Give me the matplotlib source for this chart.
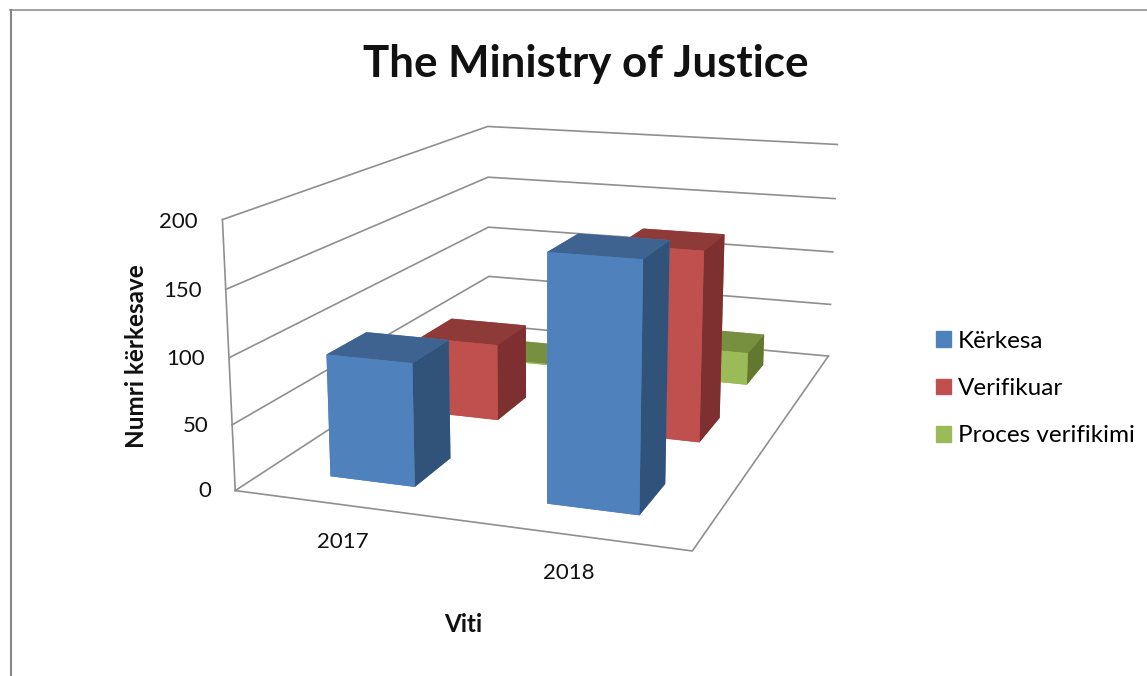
import numpy as np, matplotlib
matplotlib.use('Agg')
import matplotlib.pyplot as plt
from matplotlib.lines import Line2D
from matplotlib.patches import Patch

years = ['2017', '2018']
series = ['Kërkesa', 'Verifikuar', 'Proces verifikimi']
kerkesa = [94, 183]
verifikuar = [64, 155]
proces = [1, 29]
zticks = [0, 50, 100, 150, 200]

W, H = 1147, 676
plt.rcParams['font.family'] = ['Lato', 'DejaVu Sans']
fig = plt.figure(figsize=(W/100, H/100), dpi=100)
ax = fig.add_axes([0.15769, -0.01691, 0.66126, 1.12199], projection='3d')
ax.set_xlim(0, 2, view_margin=0); ax.set_ylim(0, 3, view_margin=0); ax.set_zlim(0, 200, view_margin=0)
ax.view_init(elev=13.7977, azim=-71.2306, roll=-0.2173)
ax.set_proj_type('persp', focal_length=float(np.exp(-0.9066)))
ax.set_box_aspect((np.exp(0.7711), np.exp(1.1537), np.exp(0.2352)))
ax.set_xticks([]); ax.set_yticks([]); ax.set_zticks([])
ax.set_axis_off(); ax.patch.set_alpha(0); ax.computed_zorder = False

GRID = '#8f8f8f'
def ln(xs, ys, zs, z=1):
    ax.plot(xs, ys, zs, color=GRID, lw=1.2, zorder=z)
for v in zticks:
    ln([0, 0, 2], [0, 3, 3], [v, v, v])
ln([0, 0], [0, 0], [0, 200])
ln([0, 2, 2], [0, 0, 3], [0, 0, 0])

faces = {
 0: ['#4F81BD', '#3E6390', '#4F81BD', '#4F81BD', '#4F81BD', '#325379'],
 1: ['#C0504D', '#8E3A38', '#C0504D', '#C0504D', '#C0504D', '#7D302F'],
 2: ['#9BBB59', '#769040', '#9BBB59', '#9BBB59', '#9BBB59', '#62772F'],
}
vals = [kerkesa, verifikuar, proces]
for j in (2, 1, 0):
    for i in range(2):
        c = ax.bar3d(i+.3, j+.3, 0, .4, .4, vals[j][i], color=faces[j], shade=False, linewidth=0)
        c.set_zorder(10 + (2-j)*2 + i)

for v in zticks:
    ax.text(-0.115, 0, v-3, str(v), ha='right', va='center', fontsize=16, color='#111111')
ax.text(0.688, -0.377, 0, years[0], ha='center', va='center', fontsize=16, color='#111111')
ax.text(1.617, -0.364, 0, years[1], ha='center', va='center', fontsize=16, color='#111111')

fig.text(586/W, 1-64/H, 'The Ministry of Justice', ha='center', va='center', fontsize=31.6, fontweight='bold', color='#111111')
fig.text(136/W, 1-356/H, 'Numri kërkesave', rotation=90, ha='center', va='center', fontsize=17.5, fontweight='bold', color='#111111')
fig.text(463/W, 1-625/H, 'Viti', ha='center', va='center', fontsize=17.5, fontweight='bold', color='#111111')

hs = [Patch(color=faces[k][0]) for k in range(3)]
fig.legend(hs, series, loc='upper left', bbox_to_anchor=(936/W, 1-330.5/H), frameon=False, fontsize=17.5,
           handlelength=0.617, handleheight=0.617, handletextpad=0.29, labelspacing=1.09, borderpad=0, borderaxespad=0)

fig.add_artist(Line2D([10/W, 1], [1-10/H, 1-10/H], color='#868686', lw=1.1, transform=fig.transFigure))
fig.add_artist(Line2D([11/W, 11/W], [0, 1-10/H], color='#868686', lw=1.5, transform=fig.transFigure))
fig.savefig('out.png', dpi=100)
